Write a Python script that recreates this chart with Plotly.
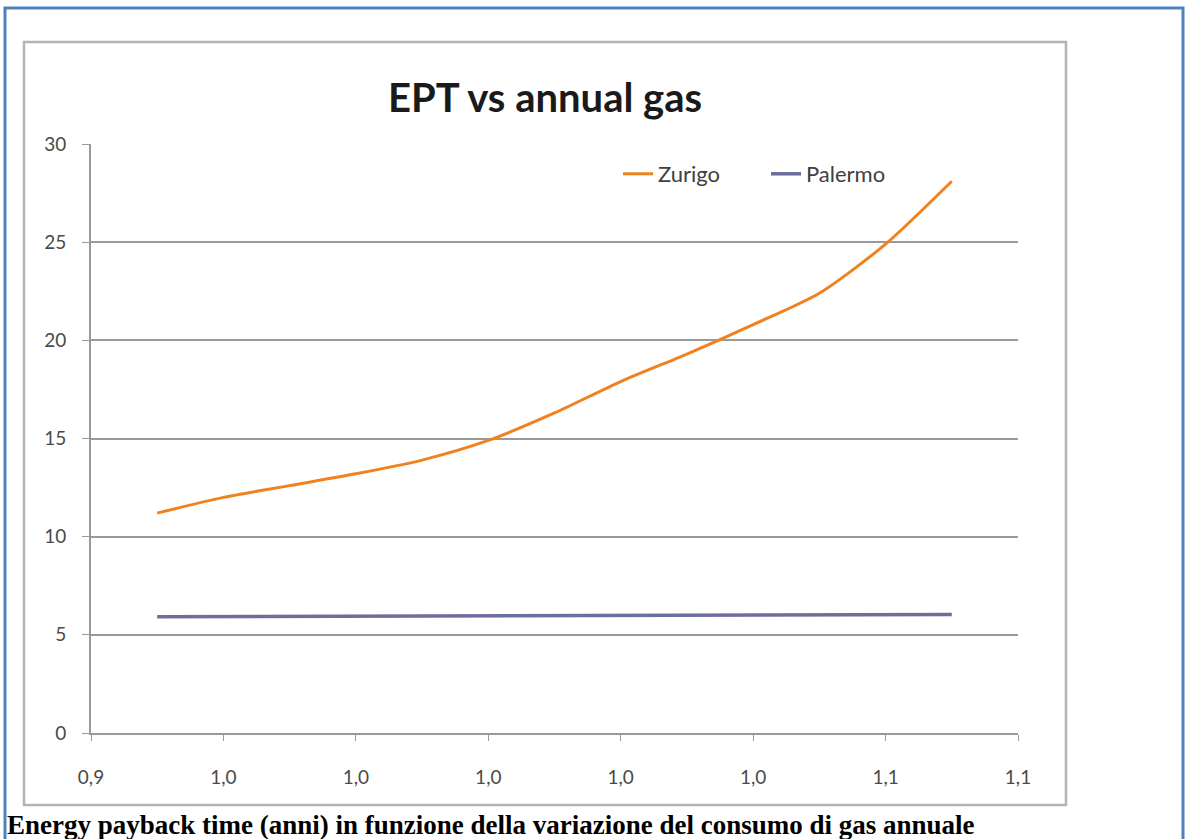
import plotly.graph_objects as go

# Data
gas_factor = [0.95, 0.96, 0.97, 0.98, 0.99, 1.00, 1.01, 1.02, 1.03, 1.04, 1.05, 1.06, 1.07]
ept_zurigo = [11.2, 12.0, 12.6, 13.2, 13.9, 14.9, 16.3, 17.9, 19.3, 20.8, 22.4, 24.9, 28.1]
ept_palermo = [5.92, 5.93, 5.94, 5.95, 5.96, 5.97, 5.97, 5.98, 5.99, 6.00, 6.01, 6.02, 6.04]

x_tick_vals = [0.94, 0.96, 0.98, 1.00, 1.02, 1.04, 1.06, 1.08]
x_tick_text = ["0,9", "1,0", "1,0", "1,0", "1,0", "1,0", "1,1", "1,1"]
y_tick_vals = [0, 5, 10, 15, 20, 25, 30]

W, H = 1186, 839
L, R, T, B = 91, 1018, 144, 733  # plot area in pixels


def px(x):
    return (x - L) / (R - L)


def py(y):
    return (B - y) / (B - T)


fig = go.Figure()

fig.add_trace(
    go.Scatter(
        x=gas_factor,
        y=ept_zurigo,
        name="Zurigo",
        mode="lines",
        line=dict(color="#f0821e", width=3, shape="spline", smoothing=0.7),
    )
)
fig.add_trace(
    go.Scatter(
        x=gas_factor,
        y=ept_palermo,
        name="Palermo",
        mode="lines",
        line=dict(color="#6e6e9c", width=3.5),
    )
)

grid_gray = "#9a9a9a"
font_family = "Lato, Open Sans, sans-serif"
tick_font = dict(family=font_family, size=19, color="#4a4a4a")

fig.update_xaxes(
    range=[0.94, 1.08],
    tickvals=x_tick_vals,
    ticktext=x_tick_text,
    showgrid=False,
    zeroline=False,
    showline=True,
    linecolor=grid_gray,
    linewidth=2,
    ticks="outside",
    ticklen=6,
    tickcolor=grid_gray,
    tickfont=tick_font,
    ticklabelstandoff=20,
)
fig.update_yaxes(
    range=[0, 30],
    tickvals=y_tick_vals,
    showgrid=True,
    gridcolor=grid_gray,
    gridwidth=2,
    zeroline=False,
    showline=True,
    linecolor=grid_gray,
    linewidth=2,
    ticks="outside",
    ticklen=7,
    tickcolor=grid_gray,
    tickfont=tick_font,
    ticklabelstandoff=12,
)

shapes = [
    # outer blue frame
    dict(type="rect", xref="paper", yref="paper",
         x0=px(5), x1=px(1183), y0=py(860), y1=py(8),
         line=dict(color="#4f81bd", width=3), layer="below"),
    # chart area frame
    dict(type="rect", xref="paper", yref="paper",
         x0=px(24), x1=px(1066), y0=py(805), y1=py(42),
         line=dict(color="#b4b4b4", width=2.5), layer="below"),
    # legend background hides part of the top gridline
    dict(type="rect", xref="paper", yref="paper",
         x0=px(596), x1=px(938), y0=py(150), y1=py(138),
         fillcolor="white", line=dict(width=0), layer="between"),
]

fig.update_layout(
    width=W,
    height=H,
    margin=dict(l=L, r=W - R, t=T, b=H - B),
    paper_bgcolor="white",
    plot_bgcolor="white",
    title=dict(
        text="<b>EPT vs annual gas</b>",
        font=dict(family=font_family, size=40, color="#1a1a1a"),
        xref="paper",
        x=px(545),
        xanchor="center",
        yref="container",
        y=1 - 98 / H,
        yanchor="middle",
    ),
    legend=dict(
        orientation="h",
        x=px(618),
        xanchor="left",
        y=py(174),
        yanchor="middle",
        bgcolor="rgba(0,0,0,0)",
        font=dict(family=font_family, size=22, color="#404040"),
        itemwidth=30,
        entrywidth=103,
        entrywidthmode="pixels",
    ),
    showlegend=True,
    shapes=shapes,
    annotations=[
        dict(
            text="<b>Energy payback time (anni) in funzione della variazione del consumo di gas annuale</b>",
            xref="paper",
            yref="paper",
            x=px(5),
            y=py(825),
            xanchor="left",
            yanchor="middle",
            showarrow=False,
            font=dict(family="Liberation Serif, Times New Roman, serif", size=27, color="black"),
        )
    ],
)

fig.write_html(
    "out.html",
    config={"displayModeBar": False},
    post_script="document.body.style.margin='0';",
)
